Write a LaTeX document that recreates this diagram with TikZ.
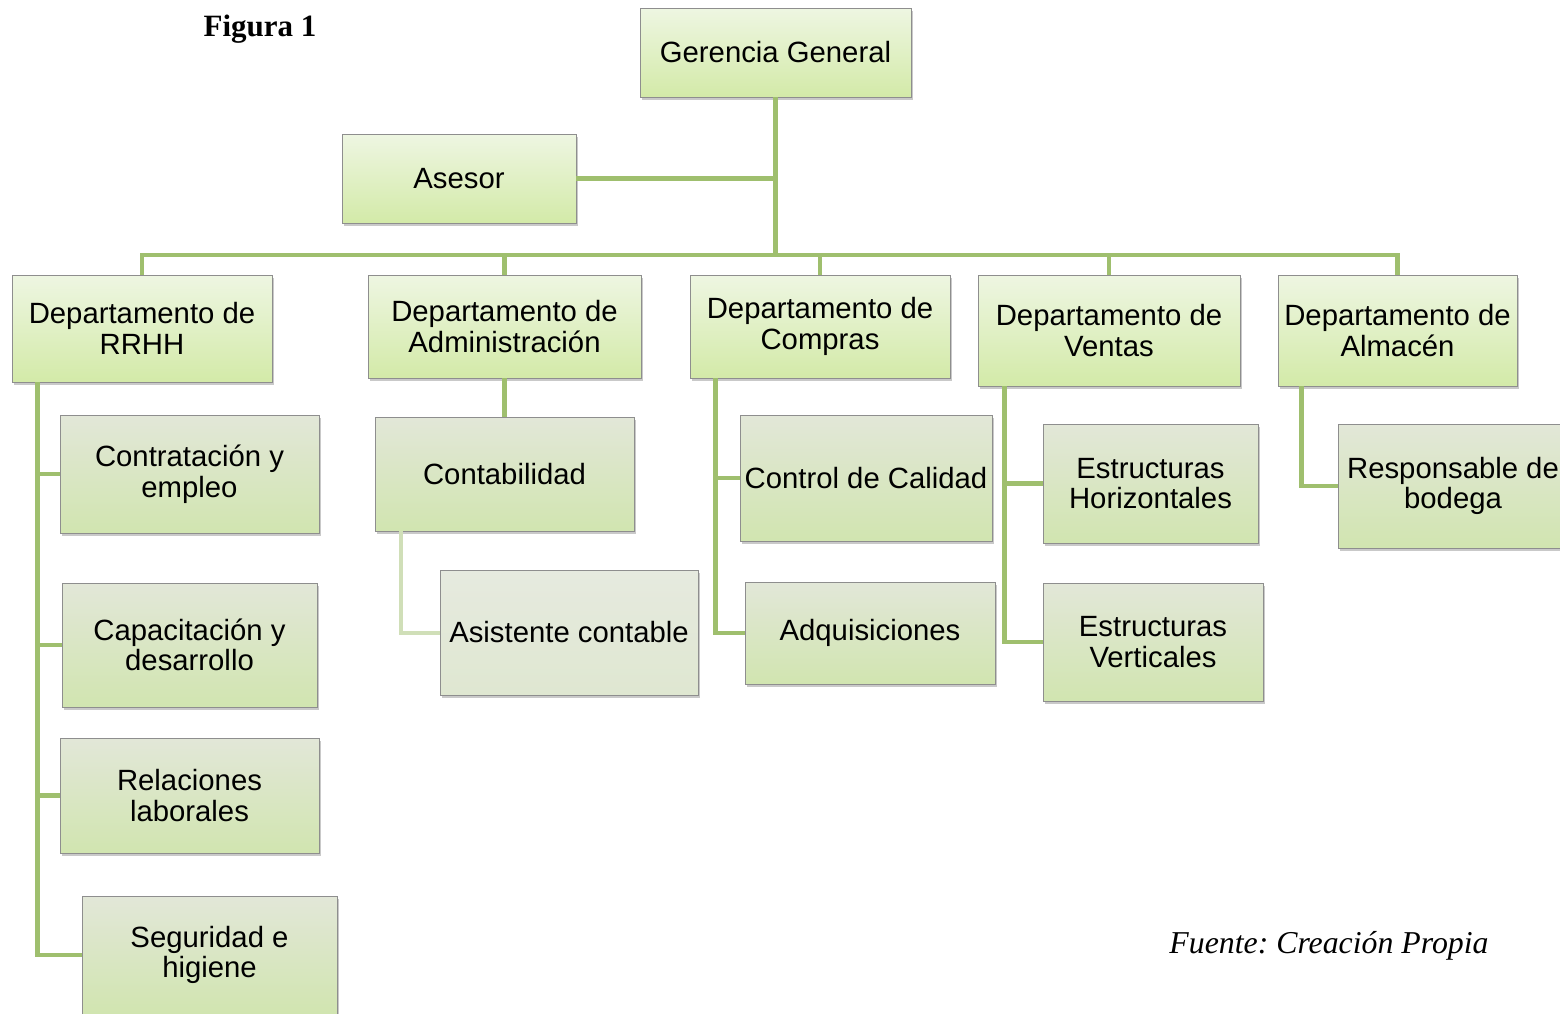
\documentclass[tikz,border=0pt]{standalone}
\usepackage{fontspec}
\setmainfont{Liberation Sans}
\newfontfamily\serifface{Liberation Serif}
\usetikzlibrary{shadows,calc}
\definecolor{conncol}{HTML}{9FBF6E}
\definecolor{connlight}{HTML}{D0DFB8}
\definecolor{bordercol}{HTML}{8E8E8E}
\definecolor{topA}{HTML}{EEF6E2}
\definecolor{topB}{HTML}{D3EAA8}
\definecolor{subA}{HTML}{E2E7D8}
\definecolor{subB}{HTML}{D1E5B0}
\definecolor{asiA}{HTML}{E6EADF}
\definecolor{asiB}{HTML}{DFE7D1}
\tikzset{
  boxbase/.style={draw=bordercol, line width=0.9pt, inner sep=2pt, align=center,
    font=\fontsize{29.3}{30.5}\selectfont,
    drop shadow={shadow xshift=1.5pt, shadow yshift=-2.5pt, opacity=0.35, fill=black!60}},
  headbox/.style={boxbase, top color=topA, bottom color=topB},
  subbox/.style={boxbase, top color=subA, bottom color=subB},
  asibox/.style={boxbase, top color=asiA, bottom color=asiB},
  conn/.style={draw=conncol, line width=4.5pt},
  connl/.style={draw=connlight, line width=4pt},
}
\begin{document}
\frenchspacing
\begin{tikzpicture}[x=1pt,y=-1pt]
\useasboundingbox (0,0) rectangle (1560,1013);
\clip (0,0) rectangle (1560,1013);
\fill[white] (0,0) rectangle (1560,1013);

% nodes
\node[headbox, minimum width=271, minimum height=89] (gg) at (775.5,52.5) {Gerencia General};
\node[headbox, minimum width=234, minimum height=89] (ase) at (459,178.5) {Asesor};
\node[headbox, minimum width=260, minimum height=107] (rrhh) at (142,328.5) {Departamento de\\RRHH};
\node[headbox, minimum width=273, minimum height=103] (adm) at (504.5,326.5) {Departamento de\\Administración};
\node[headbox, minimum width=260, minimum height=103] (com) at (820,326.5) {Departamento de\\Compras};
\node[headbox, minimum width=262, minimum height=111] (ven) at (1109,330.5) {Departamento de\\Ventas};
\node[headbox, minimum width=239, minimum height=111] (alm) at (1397.5,330.5) {Departamento de\\Almacén};

\node[subbox, minimum width=259, minimum height=118] (con) at (189.5,474) {Contratación y\\empleo};
\node[subbox, minimum width=255, minimum height=124] (cap) at (189.5,645) {Capacitación y\\desarrollo};
\node[subbox, minimum width=259, minimum height=115] (rel) at (189.5,795.5) {Relaciones\\laborales};
\node[subbox, minimum width=255, minimum height=118] (seg) at (209.5,955) {Seguridad e\\higiene};

\node[subbox, minimum width=259, minimum height=114] (ctb) at (504.5,474) {Contabilidad};
\node[asibox, minimum width=258, minimum height=125] (asi) at (569,632.5) {Asistente contable};

\node[subbox, minimum width=252, minimum height=126] (cc) at (866,478) {Control de Calidad};
\node[subbox, minimum width=250, minimum height=102] (adq) at (870,633) {Adquisiciones};

\node[subbox, minimum width=215, minimum height=119] (eh) at (1150.5,483.5) {Estructuras\\Horizontales};
\node[subbox, minimum width=220, minimum height=118] (ev) at (1153,642) {Estructuras\\Verticales};

\node[subbox, minimum width=230, minimum height=124] (rb) at (1453,486) {Responsable de\\bodega};

% labels
\node[font=\serifface\bfseries\fontsize{31}{33}\selectfont, inner sep=0] (fig) at (260,29) {Figura 1};
\node[font=\serifface\itshape\fontsize{31.8}{33}\selectfont, inner sep=0] (fte) at (1329,946) {Fuente: Creación Propia};

% connectors
\coordinate (bus) at (775,255);
\draw[conn] (gg.south) -- (gg.south |- bus);
\draw[conn] (ase.east) -- (ase.east -| gg.south);
\draw[conn] (rrhh.north) |- (alm.north |- bus) -- (alm.north);
\draw[conn] (adm.north) -- (adm.north |- bus);
\draw[conn] (com.north) -- (com.north |- bus);
\draw[conn] (ven.north) -- (ven.north |- bus);

% RRHH children
\coordinate (rtop) at ($(rrhh.south west)+(26,0)$);
\draw[conn] (rtop) |- (seg.west);
\draw[conn] (con.west) -- (con.west -| rtop);
\draw[conn] (cap.west) -- (cap.west -| rtop);
\draw[conn] (rel.west) -- (rel.west -| rtop);

% Administracion
\draw[conn] (adm.south) -- (ctb.north);
\coordinate (ctop) at ($(ctb.south west)+(26,0)$);
\draw[connl] (ctop) |- (asi.west);

% Compras
\coordinate (ptop) at ($(com.south west)+(26,0)$);
\draw[conn] (ptop) |- (adq.west);
\draw[conn] (cc.west) -- (cc.west -| ptop);

% Ventas
\coordinate (vtop) at ($(ven.south west)+(27,0)$);
\draw[conn] (vtop) |- (ev.west);
\draw[conn] (eh.west) -- (eh.west -| vtop);

% Almacen
\coordinate (atop) at ($(alm.south west)+(24,0)$);
\draw[conn] (atop) |- (rb.west);
\end{tikzpicture}
\end{document}
